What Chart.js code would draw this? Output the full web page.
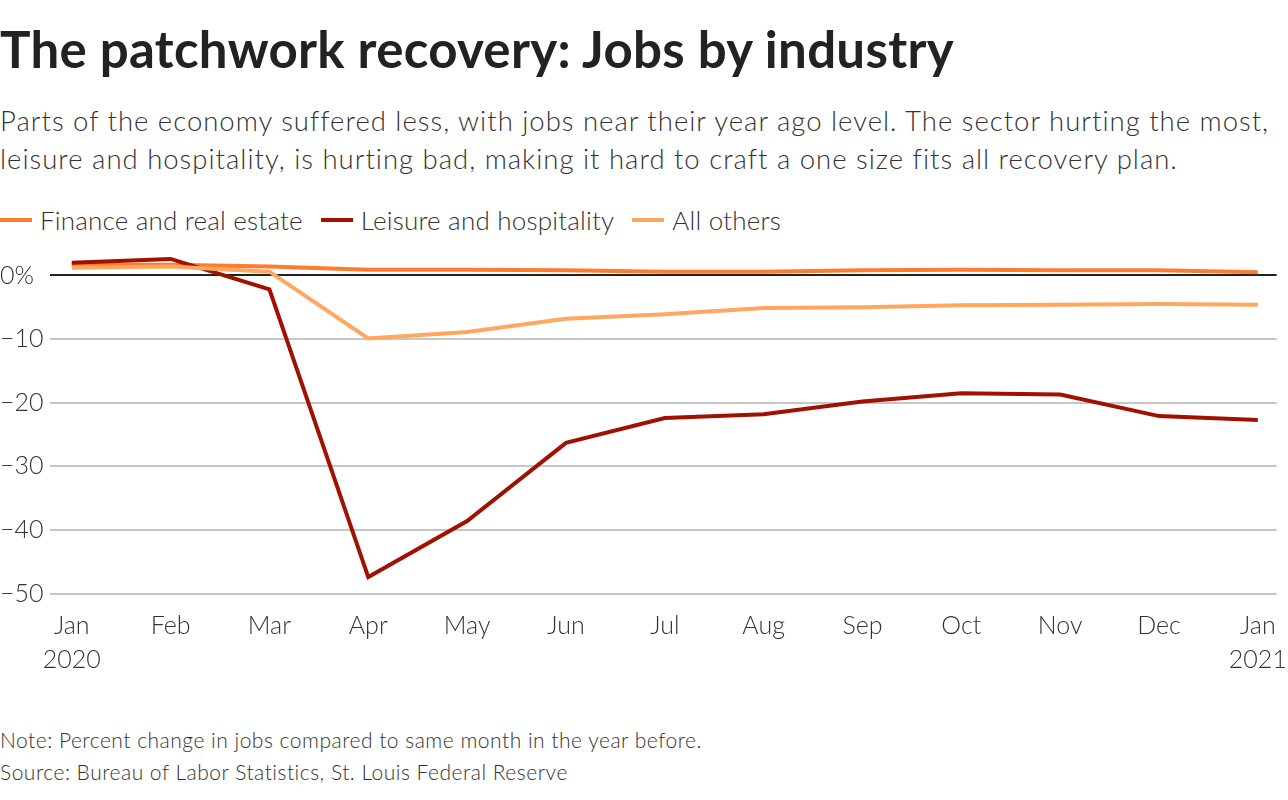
<!DOCTYPE html>
<html>
<head>
<meta charset="utf-8">
<script src="https://cdn.jsdelivr.net/npm/chart.js@4"></script>
<style>
  body { margin: 0; width: 1288px; height: 800px; background: #fff; font-family: Lato, "Noto Sans", sans-serif; color: #222; position: relative; overflow: hidden; }
  h1 { position: absolute; left: 0; top: 18px; margin: 0; font-size: 51px; font-weight: 700; letter-spacing: 0.3px; color: #222; }
  .sub { position: absolute; left: 0; top: 102px; margin: 0; font-size: 27.5px; font-weight: 300; letter-spacing: 1px; line-height: 38px; color: #333; width: 1300px; }
  #legend { position: absolute; left: 0; top: 204px; font-size: 26px; font-weight: 300; letter-spacing: 0.2px; color: #333; display: flex; }
  #legend span.item { display: flex; align-items: center; margin-right: 18px; }
  #legend span.sw { display: inline-block; width: 32px; height: 4px; margin-right: 8px; }
  #wrap { position: absolute; left: 0; top: 227px; width: 1288px; height: 463px; }
  .note { position: absolute; left: 0; font-size: 21px; font-weight: 300; letter-spacing: 0.5px; color: #333; }
</style>
</head>
<body>
<h1>The patchwork recovery: Jobs by industry</h1>
<p class="sub">Parts of the economy suffered less, with jobs near their year ago level. The sector hurting the most,<br>leisure and hospitality, is hurting bad, making it hard to craft a one size fits all recovery plan.</p>
<div id="legend"></div>
<div id="wrap"><canvas id="jobsChart"></canvas></div>
<div class="note" style="top:727px">Note: Percent change in jobs compared to same month in the year before.</div>
<div class="note" style="top:759px">Source: Bureau of Labor Statistics, St. Louis Federal Reserve</div>
<script>
// month labels (two lines where a year starts)
const months = ['Jan', 'Feb', 'Mar', 'Apr', 'May', 'Jun', 'Jul', 'Aug', 'Sep', 'Oct', 'Nov', 'Dec', 'Jan'];
const years = ['2020', '', '', '', '', '', '', '', '', '', '', '', '2021'];

// percent change vs same month a year before
const finance = [1.7, 1.7, 1.4, 0.9, 0.9, 0.8, 0.6, 0.6, 0.8, 0.9, 0.8, 0.8, 0.5];
const leisure = [2.0, 2.6, -2.2, -47.4, -38.6, -26.3, -22.4, -21.8, -19.8, -18.5, -18.7, -22.1, -22.7];
const others = [1.2, 1.4, 0.6, -9.9, -8.9, -6.8, -6.1, -5.1, -5.0, -4.7, -4.6, -4.5, -4.6];

const yTicks = [0, -10, -20, -30, -40, -50];

const series = [
    { label: 'Finance and real estate', data: finance, color: '#ff7b2e' },
    { label: 'Leisure and hospitality', data: leisure, color: '#a11100' },
    { label: 'All others', data: others, color: '#ffa75e' }
];

// html legend
const legend = document.getElementById('legend');
series.forEach(s => {
    const item = document.createElement('span');
    item.className = 'item';
    item.innerHTML = `<span class="sw" style="background:${s.color}"></span>${s.label}`;
    legend.append(item);
});

const font = { family: 'Lato', size: 25, weight: '300', lineHeight: 1.36 };

new Chart(document.getElementById('jobsChart'), {
    type: 'line',
    data: {
        datasets: series.map(s => ({
            label: s.label,
            data: s.data.map((v, i) => ({ x: i, y: v })),
            borderColor: s.color,
            borderWidth: 4,
            pointRadius: 0,
            tension: 0,
            fill: false
        })).reverse()
    },
    options: {
        responsive: true,
        maintainAspectRatio: false,
        animation: false,
        layout: { padding: { top: 7, right: 11, left: 0, bottom: 0 } },
        plugins: { legend: { display: false }, tooltip: { enabled: false } },
        scales: {
            x: {
                type: 'linear',
                min: -0.22,
                max: 12.19,
                afterBuildTicks: axis => { axis.ticks = months.map((m, i) => ({ value: i })); },
                afterFit: axis => { axis.height = 90; },
                grid: { display: false },
                border: { display: false },
                ticks: {
                    color: '#333',
                    font: font,
                    padding: 1,
                    maxRotation: 0,
                    autoSkip: false,
                    callback: v => years[v] ? [months[v], years[v]] : months[v]
                }
            },
            y: {
                min: -51,
                max: 4,
                afterBuildTicks: axis => { axis.ticks = yTicks.map(v => ({ value: v })); },
                afterFit: axis => { axis.width = 50; },
                border: { display: false },
                grid: {
                    color: ctx => ctx.tick && ctx.tick.value === 0 ? '#222' : '#c6c6c6',
                    lineWidth: 2,
                    drawTicks: false
                },
                ticks: {
                    color: '#333',
                    font: font,
                    crossAlign: 'far',
                    padding: 6,
                    callback: v => v === 0 ? '0%' : '\u2212' + Math.abs(v)
                }
            }
        }
    }
});
</script>
</body>
</html>
